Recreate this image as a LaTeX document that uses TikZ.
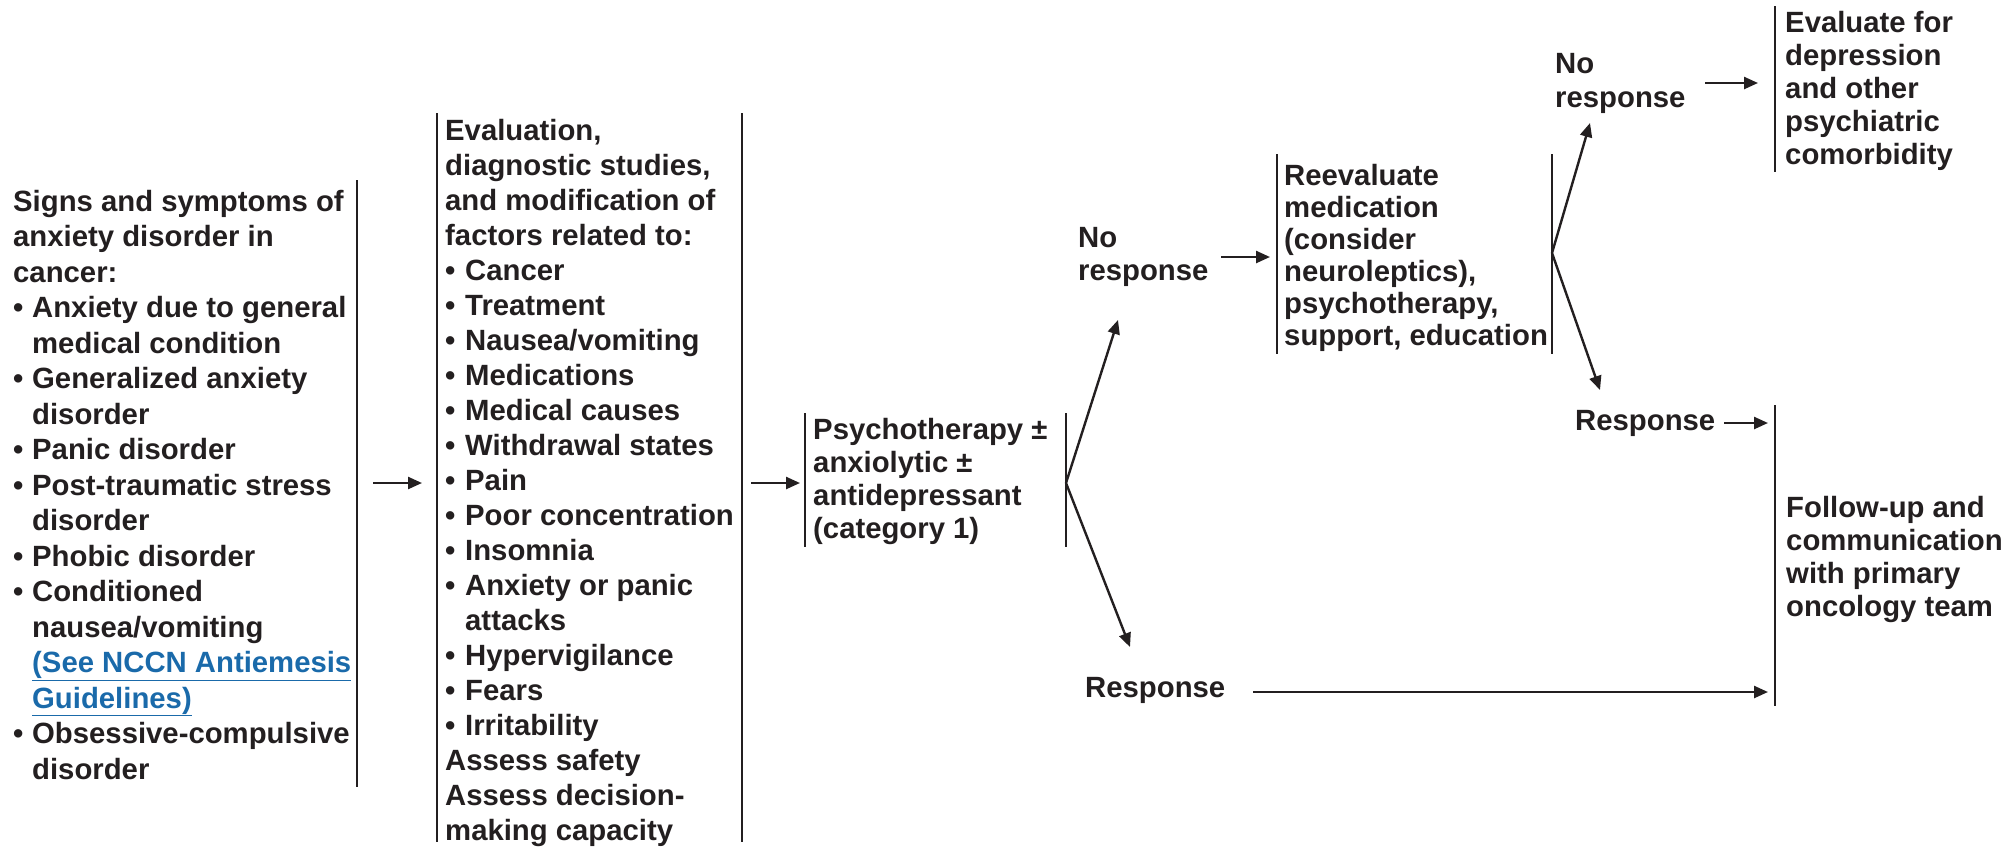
\documentclass[tikz,border=0pt]{standalone}
\usepackage{fontspec}
\setmainfont{Liberation Sans}
\usetikzlibrary{arrows.meta}
\definecolor{ink}{HTML}{231F20}
\definecolor{linkblue}{HTML}{1A6AAA}
% bullet item and continuation indent
\newcommand{\itm}[1]{\makebox[#1][l]{\textbullet}}
\newcommand{\cnt}[1]{\hspace*{#1}}
\begin{document}
\begin{tikzpicture}[x=1pt,y=-1pt,
  % text blocks are placed by the baseline of their last line
  txt/.style={anchor=base west, inner sep=0pt, align=left, text=ink},
  fs/.style={font=\bfseries\fontsize{29.3}{#1}\selectfont},
  bar/.style={draw=ink, line width=2.4pt},
  arr/.style={draw=ink, line width=2.4pt, -{Triangle[length=14pt,width=12pt]}},
]
\useasboundingbox (0,0) rectangle (2016,847);

% ---- text blocks ----
\node[txt, fs=35.5] (signs) at (13,779) {Signs and symptoms of\\
anxiety disorder in\\
cancer:\\
\itm{19pt}Anxiety due to general\\
\cnt{19pt}medical condition\\
\itm{19pt}Generalized anxiety\\
\cnt{19pt}disorder\\
\itm{19pt}Panic disorder\\
\itm{19pt}Post-traumatic stress\\
\cnt{19pt}disorder\\
\itm{19pt}Phobic disorder\\
\itm{19pt}Conditioned\\
\cnt{19pt}nausea/vomiting\\
\cnt{19pt}{\color{linkblue}\underline{(See NCCN Antiemesis}}\\
\cnt{19pt}{\color{linkblue}\underline{Guidelines)}}\\
\itm{19pt}Obsessive-compulsive\\
\cnt{19pt}disorder};

\node[txt, fs=35] (evalstudies) at (445,840) {Evaluation,\\
diagnostic studies,\\
and modification of\\
factors related to:\\
\itm{20pt}Cancer\\
\itm{20pt}Treatment\\
\itm{20pt}Nausea/vomiting\\
\itm{20pt}Medications\\
\itm{20pt}Medical causes\\
\itm{20pt}Withdrawal states\\
\itm{20pt}Pain\\
\itm{20pt}Poor concentration\\
\itm{20pt}Insomnia\\
\itm{20pt}Anxiety or panic\\
\cnt{20pt}attacks\\
\itm{20pt}Hypervigilance\\
\itm{20pt}Fears\\
\itm{20pt}Irritability\\
Assess safety\\
Assess decision-\\
making capacity};

\node[txt, fs=32.7] (psycho) at (813,538) {Psychotherapy ±\\
anxiolytic ±\\
antidepressant\\
(category 1)};

\node[txt, fs=33] (nores1) at (1078,280) {No\\response};
\node[txt, fs=33] (res1) at (1085,697) {Response};

\node[txt, fs=32] (reeval) at (1284,345) {Reevaluate\\
medication\\
(consider\\
neuroleptics),\\
psychotherapy,\\
support, education};

\node[txt, fs=34] (nores2) at (1555,107) {No\\response};
\node[txt, fs=33] (res2) at (1575,430) {Response};

\node[txt, fs=33] (evaldep) at (1785,164) {Evaluate for\\
depression\\
and other\\
psychiatric\\
comorbidity};

\node[txt, fs=33] (followup) at (1786,616) {Follow-up and\\
communication\\
with primary\\
oncology team};

% ---- bracket bars ----
\coordinate (s1t) at (357,180);  \coordinate (s1b) at (357,787);
\coordinate (e1t) at (437,113);  \coordinate (e1b) at (437,842);
\coordinate (e2t) at (742,113);  \coordinate (e2b) at (742,842);
\coordinate (p1t) at (805,413);  \coordinate (p1b) at (805,547);
\coordinate (p2t) at (1066,413); \coordinate (p2b) at (1066,547);
\coordinate (r1t) at (1277,154); \coordinate (r1b) at (1277,354);
\coordinate (r2t) at (1552,154); \coordinate (r2b) at (1552,354);
\coordinate (d1t) at (1775,6);   \coordinate (d1b) at (1775,172);
\coordinate (f1t) at (1775,405); \coordinate (f1b) at (1775,706);

\foreach \a/\b in {s1t/s1b, e1t/e1b, e2t/e2b, p1t/p1b, p2t/p2b,
                   r1t/r1b, r2t/r2b, d1t/d1b, f1t/f1b}
  \draw[bar] (\a) -- (\b);

% ---- connectors ----
\coordinate (a1s) at (373,483);  \coordinate (a1e) at (422,483);
\coordinate (a2s) at (751,483);  \coordinate (a2e) at (800,483);
\coordinate (br1) at (1066,483);
\coordinate (br1u) at (1118,320); \coordinate (br1d) at (1130,647);
\coordinate (n1s) at (1221,257); \coordinate (n1e) at (1270,257);
\coordinate (br2) at (1552,253);
\coordinate (br2u) at (1590,123); \coordinate (br2d) at (1600,390);
\coordinate (n2s) at (1705,83);  \coordinate (n2e) at (1758,83);
\coordinate (r2s) at (1724,423); \coordinate (r2e) at (1768,423);
\coordinate (r1s) at (1253,692); \coordinate (r1e) at (1768,692);

\draw[arr] (a1s) -- (a1e);
\draw[arr] (a2s) -- (a2e);
\draw[arr] (br1) -- (br1u);
\draw[arr] (br1) -- (br1d);
\draw[arr] (n1s) -- (n1e);
\draw[arr] (br2) -- (br2u);
\draw[arr] (br2) -- (br2d);
\draw[arr] (n2s) -- (n2e);
\draw[arr] (r2s) -- (r2e);
\draw[arr] (r1s) -- (r1e);
\end{tikzpicture}
\end{document}
